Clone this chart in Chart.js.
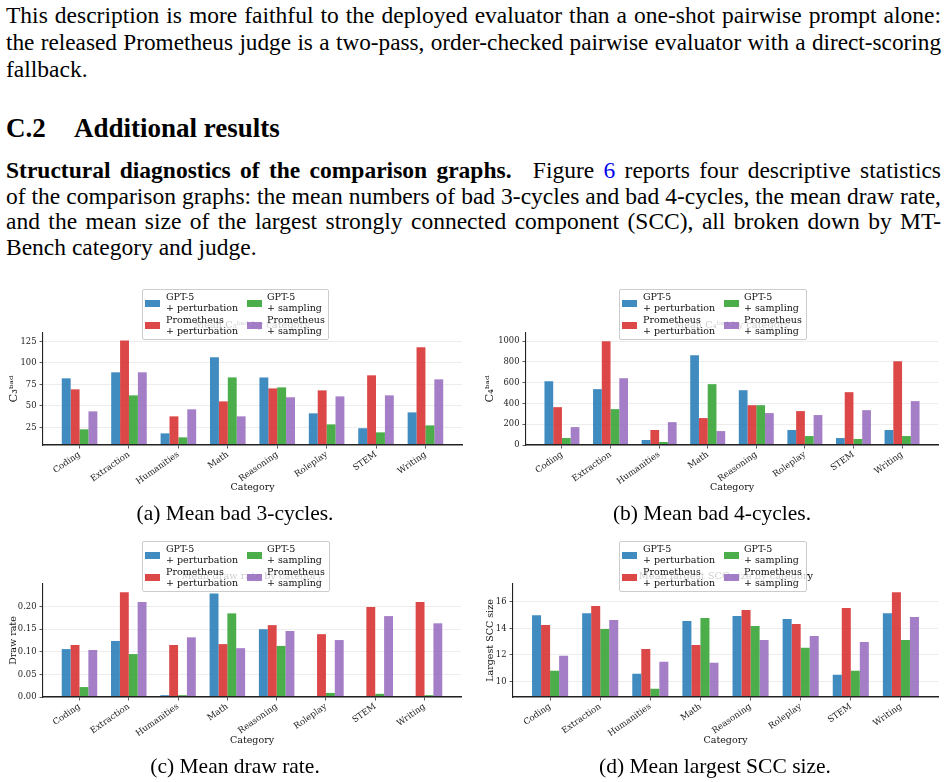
<!DOCTYPE html>
<html><head><meta charset="utf-8">
<script src="https://cdn.jsdelivr.net/npm/chart.js@4.4.1/dist/chart.umd.min.js"></script>
<style>
html,body{margin:0;padding:0;background:#fff;}
body{width:947px;height:782px;position:relative;overflow:hidden;font-family:"Liberation Serif",serif;color:#000;}
.line{position:absolute;left:6px;width:935px;font-size:23.5px;line-height:26px;text-align:justify;text-align-last:justify;}
.last{text-align-last:left;}
.head{position:absolute;top:113px;font-size:27px;line-height:30px;font-weight:bold;}
canvas{position:absolute;}
.ttl{position:absolute;font-family:"DejaVu Serif",serif;font-size:9.8px;line-height:12px;white-space:nowrap;color:#000;transform:translateX(-50%);}
.leg{position:absolute;background:rgba(255,255,255,0.8);border:1px solid #cccccc;border-radius:2px;font-family:"DejaVu Serif",serif;font-size:9.5px;line-height:11px;color:#111;box-sizing:border-box;}
.leg .p{position:absolute;width:15px;height:7px;}
.leg .t{position:absolute;white-space:nowrap;}
.cap{position:absolute;font-size:21.5px;line-height:24px;white-space:nowrap;transform:translateX(-50%);}
</style></head>
<body>
<div class="line fit" style="top:2px">This description is more faithful to the deployed evaluator than a one-shot pairwise prompt alone:</div>
<div class="line fit" style="top:29px">the released Prometheus judge is a two-pass, order-checked pairwise evaluator with a direct-scoring</div>
<div class="line last" style="top:56px">fallback.</div>
<div class="head" style="left:6px">C.2</div>
<div class="head" style="left:74px">Additional results</div>
<div class="line fit" style="top:157px"><b>Structural diagnostics of the comparison graphs.</b><span style="display:inline-block;width:12px"></span> Figure <span style="color:#0000ee">6</span> reports four descriptive statistics</div>
<div class="line fit" style="top:183px">of the comparison graphs: the mean numbers of bad 3-cycles and bad 4-cycles, the mean draw rate,</div>
<div class="line fit" style="top:208px">and the mean size of the largest strongly connected component (SCC), all broken down by MT-</div>
<div class="line last" style="top:234px">Bench category and judge.</div>

<canvas id="cA" width="470" height="225" style="left:0;top:280px"></canvas>
<canvas id="cB" width="472" height="225" style="left:475px;top:280px"></canvas>
<canvas id="cC" width="470" height="225" style="left:0;top:535px"></canvas>
<canvas id="cD" width="472" height="225" style="left:475px;top:535px"></canvas>

<div class="ttl" style="left:252px;top:319px">Mean C₃ᵇᵃᵈ by category</div>
<div class="ttl" style="left:732px;top:319px">Mean C₄ᵇᵃᵈ by category</div>
<div class="ttl" style="left:252px;top:570px">Mean draw rate by category</div>
<div class="ttl" style="left:726px;top:570px">Mean largest SCC size by category</div>

<div id="lA" class="leg" style="left:142px;top:289px;width:187px;height:51px"></div>
<div id="lB" class="leg" style="left:619px;top:289px;width:188px;height:51px"></div>
<div id="lC" class="leg" style="left:142px;top:541px;width:188px;height:51px"></div>
<div id="lD" class="leg" style="left:619px;top:541px;width:188px;height:51px"></div>

<div class="cap" style="left:235px;top:501px">(a) Mean bad 3-cycles.</div>
<div class="cap" style="left:712px;top:501px">(b) Mean bad 4-cycles.</div>
<div class="cap" style="left:235px;top:754px">(c) Mean draw rate.</div>
<div class="cap" style="left:715px;top:754px">(d) Mean largest SCC size.</div>

<script>
// shrink any paragraph line that would wrap, so each stays a single justified line
document.querySelectorAll('.fit').forEach(el=>{
  let fs = 23.5;
  while (el.getBoundingClientRect().height > 30 && fs > 16) { fs -= 0.25; el.style.fontSize = fs + 'px'; }
});

const categories = ["Coding","Extraction","Humanities","Math","Reasoning","Roleplay","STEM","Writing"];
const seriesNames = [["GPT-5","+ perturbation"],["Prometheus","+ perturbation"],["GPT-5","+ sampling"],["Prometheus","+ sampling"]];
const seriesColors = ["rgba(31,119,180,0.85)","rgba(214,39,40,0.85)","rgba(44,160,44,0.85)","rgba(148,103,189,0.85)"];

// (a) bad 3-cycles
const c3GptPert  = [82, 89, 18, 106.4, 83, 41.3, 24, 42.4];
const c3PromPert = [69.2, 126, 37.8, 55.2, 70.3, 68, 85.5, 118];
const c3GptSamp  = [22.7, 62.2, 13.4, 83.1, 71.5, 28.5, 19.2, 27.3];
const c3PromSamp = [43.6, 89, 46, 37.8, 60, 61, 62.2, 80.8];
const c3Ticks = [25, 50, 75, 100, 125];

// (b) bad 4-cycles
const c4GptPert  = [613, 537, 48, 863, 527, 144, 67, 144];
const c4PromPert = [364, 997, 144, 259, 383, 326, 508, 805];
const c4GptSamp  = [67, 345, 29, 585, 383, 86, 58, 86];
const c4PromSamp = [172, 642, 220, 134, 307, 288, 335, 422];
const c4Ticks = [0, 200, 400, 600, 800, 1000];

// (c) draw rate
const drawGptPert  = [0.106, 0.124, 0.004, 0.229, 0.150, 0.002, 0.002, 0.001];
const drawPromPert = [0.115, 0.232, 0.115, 0.117, 0.159, 0.139, 0.199, 0.210];
const drawGptSamp  = [0.022, 0.095, 0.004, 0.185, 0.113, 0.009, 0.007, 0.004];
const drawPromSamp = [0.104, 0.210, 0.132, 0.108, 0.146, 0.126, 0.179, 0.163];
const drawTicks = [0, 0.05, 0.10, 0.15, 0.20];

// (d) largest SCC size
const sccGptPert  = [15.0, 15.15, 10.58, 14.55, 14.93, 14.7, 10.5, 15.15];
const sccPromPert = [14.25, 15.68, 12.45, 12.75, 15.38, 14.33, 15.53, 16.73];
const sccGptSamp  = [10.8, 13.95, 9.45, 14.78, 14.18, 12.53, 10.8, 13.13];
const sccPromSamp = [11.93, 14.63, 11.48, 11.4, 13.13, 13.43, 12.98, 14.85];
const sccTicks = [10, 12, 14, 16];

Chart.defaults.font.family = '"DejaVu Serif", serif';
Chart.defaults.color = '#222';

function buildLegend(id){
  const el = document.getElementById(id);
  let h = '';
  seriesNames.forEach((nm,i)=>{
    const col = Math.floor(i/2), row = i%2;
    h += `<div class="p" style="left:${2+col*102}px;top:${10+row*22}px;background:${seriesColors[i]}"></div>`;
    h += `<div class="t" style="left:${23+col*101}px;top:${1+row*23}px">${nm[0]}<br>${nm[1]}</div>`;
  });
  el.innerHTML = h;
}

function makeChart(id, series, cfg){
  const datasets = series.map((vals,i)=>({
    label: seriesNames[i].join(' '),
    data: vals.map((v,j)=>({x:j, y:v})),
    backgroundColor: seriesColors[i],
    borderWidth: 0,
    categoryPercentage: 0.72,
    barPercentage: 1.0
  }));
  new Chart(document.getElementById(id), {
    type: 'bar',
    data: { datasets },
    options: {
      responsive: false,
      animation: false,
      devicePixelRatio: 1,
      layout: { padding: { top: cfg.top, right: cfg.right, left: 0, bottom: 0 } },
      plugins: { legend: { display: false }, title: { display: false }, tooltip: { enabled: false } },
      scales: {
        x: {
          type: 'linear',
          offset: false,
          min: -0.74, max: 7.74,
          afterBuildTicks: s => { s.ticks = categories.map((c,i)=>({value:i})); },
          afterFit: s => { s.height = cfg.xh; },
          ticks: {
            autoSkip: false, minRotation: 35, maxRotation: 35,
            font: { size: 8.6 }, color: '#222', padding: 1,
            callback: v => categories[v]
          },
          grid: { offset: false, drawOnChartArea: false, drawTicks: true, tickLength: 3.5, tickColor: '#333', tickWidth: 0.8 },
          border: { display: true, color: '#222', width: 1.6, z: 1 },
          title: { display: true, text: 'Category', font: { size: 9.5 }, color: '#111', padding: { top: 0, bottom: cfg.xtp } }
        },
        y: {
          min: cfg.ymin, max: cfg.ymax,
          afterBuildTicks: s => { s.ticks = cfg.ticks.map(v=>({value:v})); },
          afterFit: s => { s.width = cfg.left; },
          ticks: { font: { size: 8.4 }, color: '#222', padding: 3,
                   callback: cfg.fmt },
          grid: { color: 'rgba(0,0,0,0.07)', lineWidth: 1, drawTicks: true, tickLength: 3.5, tickColor: '#333', tickWidth: 0.8 },
          border: { display: true, color: '#222', width: 1.1, z: 1 },
          title: { display: true, text: cfg.ytitle, font: { size: cfg.ytfs }, color: '#111', padding: { top: cfg.ytp, bottom: 0 } }
        }
      }
    }
  });
}

makeChart('cA', [c3GptPert, c3PromPert, c3GptSamp, c3PromSamp],
  { top: 53, right: 8, left: 43, xh: 60, xtp: 11.3, ytp: 7.5, ytfs: 11.5, ymin: 4.5, ymax: 134.7, ticks: c3Ticks,
    fmt: v => String(v), ytitle: 'C₃ᵇᵃᵈ' });
makeChart('cB', [c4GptPert, c4PromPert, c4GptSamp, c4PromSamp],
  { top: 53, right: 9, left: 51, xh: 60, xtp: 11.3, ytp: 8.5, ytfs: 11.5, ymin: 0, ymax: 1077, ticks: c4Ticks,
    fmt: v => String(v), ytitle: 'C₄ᵇᵃᵈ' });
makeChart('cC', [drawGptPert, drawPromPert, drawGptSamp, drawPromSamp],
  { top: 49, right: 9, left: 43, xh: 63, xtp: 13.6, ytp: 8.3, ytfs: 9.5, ymin: 0, ymax: 0.25, ticks: drawTicks,
    fmt: v => Number(v).toFixed(2), ytitle: 'Draw rate' });
makeChart('cD', [sccGptPert, sccPromPert, sccGptSamp, sccPromSamp],
  { top: 49, right: 9, left: 38, xh: 63, xtp: 13.6, ytp: 10.3, ytfs: 9.5, ymin: 8.82, ymax: 17.35, ticks: sccTicks,
    fmt: v => String(v), ytitle: 'Largest SCC size' });

['lA','lB','lC','lD'].forEach(buildLegend);
</script>
</body></html>
